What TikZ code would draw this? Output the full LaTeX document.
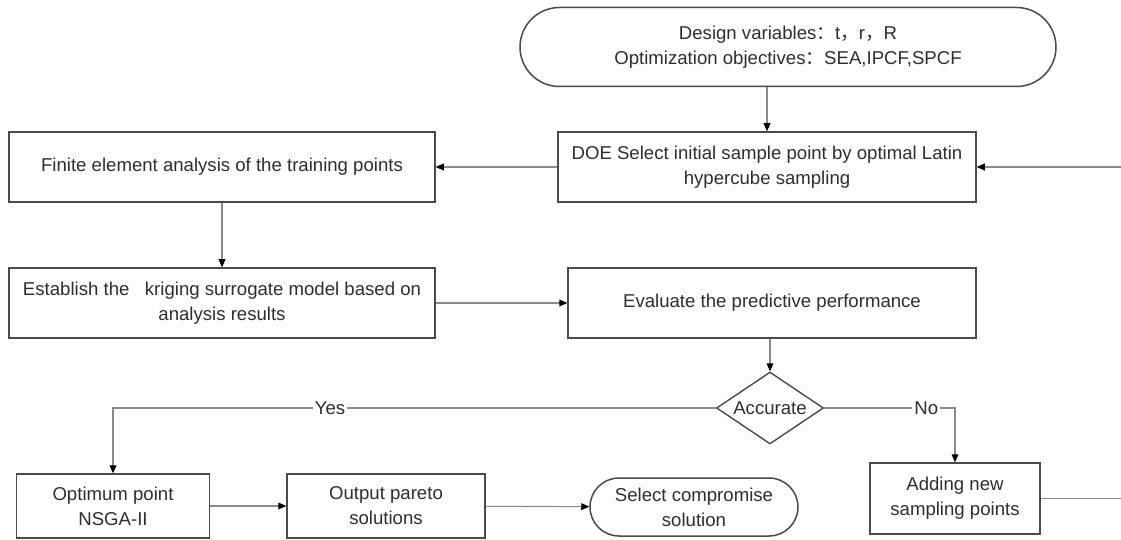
\documentclass[tikz,border=0pt]{standalone}
\usepackage{fontspec}
\setmainfont{Liberation Sans}
\newfontfamily\cjk{Noto Sans CJK SC}
\usetikzlibrary{shapes.geometric,arrows.meta}
\definecolor{boxgray}{HTML}{4A4A4A}
\definecolor{linegray}{HTML}{8A8A8A}
\definecolor{txtgray}{HTML}{2E2E2E}
\newcommand{\fw}[1]{{\cjk #1}}
\begin{document}
\begin{tikzpicture}[x=0.5pt,y=-0.5pt,font=\fontsize{9.3}{12.5}\selectfont,text=txtgray]
  \tikzstyle{process}=[draw=boxgray, line width=0.75pt, rectangle, align=center, inner sep=2pt]
  \tikzstyle{terminal}=[process]
  \tikzstyle{decision}=[draw=boxgray, line width=0.7pt, diamond, aspect=1.5, inner sep=0pt]
  \tikzstyle{line}=[draw=linegray, line width=0.55pt, >={Triangle[length=4pt,width=3.4pt]}, arrows={->[color=black]}]
  \tikzstyle{tag}=[fill=white, inner sep=1pt]
  \fill[white] (0,0) rectangle (1121,540);
  \useasboundingbox (0,0) rectangle (1121,540);
  % top row
  \node[terminal, rounded corners=19.75pt, minimum width=268pt, minimum height=39.5pt] (start) at (788,47)
    {Design variables\fw{：}t\fw{，}r\fw{，}R\\Optimization objectives\fw{：}SEA,IPCF,SPCF};
  \node[process, minimum width=209pt, minimum height=35pt] (doe) at (767,167)
    {DOE Select initial sample point by optimal Latin\\hypercube sampling};
  \node[process, minimum width=213pt, minimum height=35pt] (fea) at (222,167)
    {Finite element analysis of the training points};
  % middle row
  \node[process, minimum width=213pt, minimum height=35pt] (krig) at (222,303)
    {Establish the\ \ \ kriging surrogate model based on\\analysis results};
  \node[process, minimum width=204pt, minimum height=35pt] (eval) at (772,303)
    {Evaluate the predictive performance};
  \node[decision, minimum width=53.5pt, minimum height=36pt] (acc) at (770,408) {Accurate};
  % bottom row
  \node[process, minimum width=96.5pt, minimum height=32pt] (opt) at (113,506)
    {Optimum point\\NSGA-II};
  \node[process, minimum width=99pt, minimum height=32pt] (out) at (386,506)
    {Output pareto\\solutions};
  \node[terminal, rounded corners=14.5pt, minimum width=104pt, minimum height=29pt] (sel) at (694,507)
    {Select compromise\\solution};
  \node[process, minimum width=85pt, minimum height=35.5pt] (add) at (955,498.5)
    {Adding new\\sampling points};
  \coordinate (back) at (1140,498.5);
  % connectors
  \draw[line] (doe.north |- start.south) -- (doe.north);
  \draw[line] (doe) -- (fea);
  \draw[line] (fea) -- (krig);
  \draw[line] (krig) -- (eval);
  \draw[line] (eval.south -| acc.north) -- (acc);
  \draw[line] (acc) -| node[tag, pos=0.32] {Yes} (opt);
  \draw[line] (acc) -| node[tag, pos=0.39] {No} (add);
  \draw[line] (opt) -- (out);
  \draw[line] (out) -- (sel);
  \draw[line] (add) -- (back) |- (doe);
\end{tikzpicture}
\end{document}
